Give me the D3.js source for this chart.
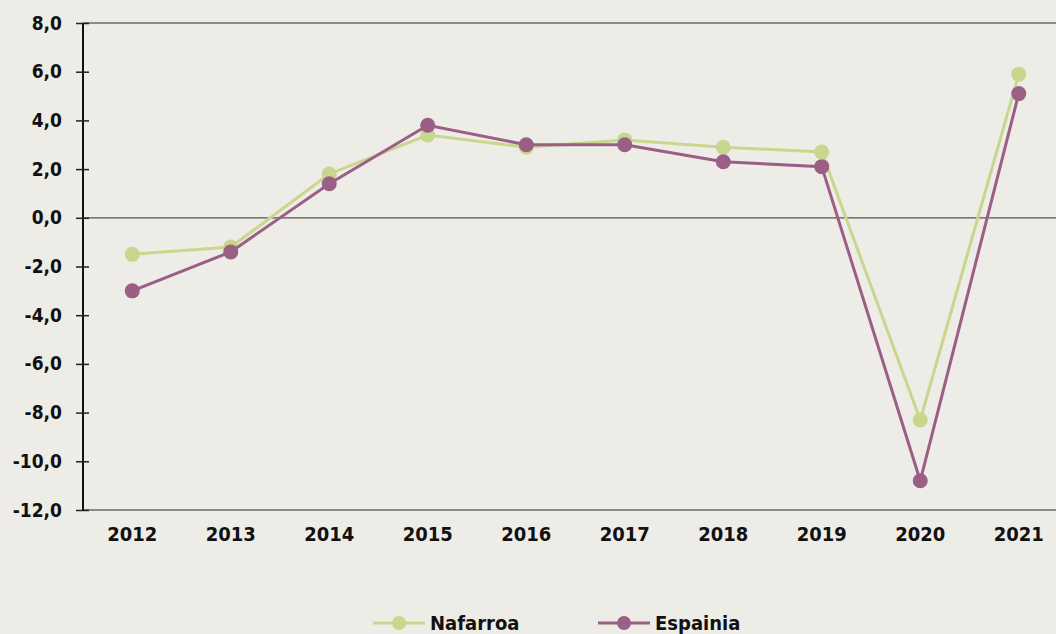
<!DOCTYPE html>
<html>
<head>
<meta charset="utf-8">
<script src="https://cdn.jsdelivr.net/npm/d3@7"></script>
<style>
  body { margin: 0; background: #edece7; }
  svg { display: block; font-family: "DejaVu Sans Condensed", "DejaVu Sans", sans-serif; font-weight: bold; }
</style>
</head>
<body>
<svg width="1056" height="634"></svg>
<script>
var years = ["2012", "2013", "2014", "2015", "2016", "2017", "2018", "2019", "2020", "2021"];
var nafarroa = [-1.5, -1.2, 1.8, 3.4, 2.9, 3.2, 2.9, 2.7, -8.3, 5.9];
var espainia = [-3.0, -1.4, 1.4, 3.8, 3.0, 3.0, 2.3, 2.1, -10.8, 5.1];
var yTicks = [8, 6, 4, 2, 0, -2, -4, -6, -8, -10, -12];

var series = [
  { name: "Nafarroa", values: nafarroa, color: "#c8d78d" },
  { name: "Espainia", values: espainia, color: "#9b5e85" }
];

var svg = d3.select("svg"),
    mLeft = 83, mRight = 1068, mTop = 23, mBottom = 510;

svg.append("rect").attr("width", 1056).attr("height", 634).attr("fill", "#edece7");

var x = d3.scaleBand().domain(years).range([mLeft, mRight]);
var y = d3.scaleLinear().domain([-12, 8]).range([mBottom, mTop]);

// frame lines top and bottom
svg.append("line").attr("x1", mLeft).attr("x2", 1056).attr("y1", y(8)).attr("y2", y(8))
   .attr("stroke", "#8a8a8a").attr("stroke-width", 2);
svg.append("line").attr("x1", mLeft).attr("x2", 1056).attr("y1", y(-12)).attr("y2", y(-12))
   .attr("stroke", "#8a8a8a").attr("stroke-width", 2);
// zero line
svg.append("line").attr("x1", mLeft).attr("x2", 1056).attr("y1", y(0)).attr("y2", y(0))
   .attr("stroke", "#555").attr("stroke-width", 1.2);

// y axis
var yAxis = svg.append("g").attr("transform", "translate(" + mLeft + ",0)")
    .call(d3.axisLeft(y).tickValues(yTicks).tickSize(7).tickPadding(14)
          .tickFormat(function(d) { return d.toFixed(1).replace(".", ","); }));
yAxis.select(".domain").attr("stroke", "#111").attr("stroke-width", 2).attr("d", "M0," + mTop + "V" + mBottom);
yAxis.selectAll(".tick line").attr("stroke", "#222").attr("stroke-width", 1.5).attr("x1", 6).attr("x2", -7);
yAxis.selectAll("text").attr("fill", "#111").style("font-size", "19px").style("font-weight", "bold")
     .style("font-family", "'DejaVu Sans Condensed', 'DejaVu Sans', sans-serif");

// x labels
var xAxis = svg.append("g").attr("transform", "translate(0," + mBottom + ")")
    .call(d3.axisBottom(x).tickSize(0).tickPadding(17));
xAxis.select(".domain").remove();
xAxis.selectAll("text").attr("fill", "#111").style("font-size", "20px").style("font-weight", "bold")
     .style("font-family", "'DejaVu Sans Condensed', 'DejaVu Sans', sans-serif");

var line = d3.line()
    .x(function(d, i) { return x(years[i]) + x.bandwidth() / 2; })
    .y(function(d) { return y(d); });

series.forEach(function(s) {
  svg.append("path").datum(s.values).attr("d", line)
     .attr("fill", "none").attr("stroke", s.color).attr("stroke-width", 3);
  svg.selectAll(null).data(s.values).enter().append("circle")
     .attr("cx", function(d, i) { return x(years[i]) + x.bandwidth() / 2; })
     .attr("cy", function(d) { return y(d); })
     .attr("r", 7.5)
     .attr("fill", s.color);
});

// legend
var legend = svg.append("g").attr("transform", "translate(0,623)");
var legX = [373, 598];
series.forEach(function(s, i) {
  var g = legend.append("g").attr("transform", "translate(" + legX[i] + ",0)");
  g.append("line").attr("x1", 0).attr("x2", 52).attr("stroke", s.color).attr("stroke-width", 3);
  g.append("circle").attr("cx", 26).attr("r", 7).attr("fill", s.color);
  g.append("text").attr("x", 57).attr("dy", "0.36em").attr("fill", "#111")
   .style("font-size", "20px").text(s.name);
});
</script>
</body>
</html>
